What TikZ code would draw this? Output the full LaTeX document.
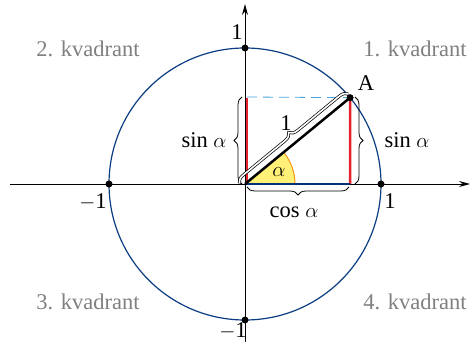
\documentclass[tikz,border=0pt]{standalone}
\usepackage{fontspec}
\setmainfont{Liberation Serif}
\usetikzlibrary{arrows.meta,decorations.pathreplacing,calc}
\definecolor{circblue}{RGB}{10,60,130}
\definecolor{navy}{RGB}{0,50,120}
\definecolor{redl}{RGB}{230,35,45}
\definecolor{dashb}{RGB}{70,165,220}
\definecolor{yel}{RGB}{255,240,120}
\definecolor{ora}{RGB}{245,150,30}
\definecolor{kv}{RGB}{128,128,128}
\begin{document}
\begin{tikzpicture}[x=1pt,y=-1pt,
  lbl/.style={font=\fontsize{22.5}{26}\selectfont, inner sep=0pt},
  kvad/.style={lbl, text=kv},
  dot/.style={circle, fill=black, inner sep=0pt, minimum size=7pt},
  axis/.style={line width=1pt, -{Stealth[length=11pt,width=6pt]}},
  brc/.style={decorate, decoration={brace, amplitude=8pt}, line width=0.8pt}]
\useasboundingbox (0,0) rectangle (474,350);
\coordinate (O) at (245,184);
\coordinate (xl) at (10,184);
\coordinate (xr) at (470,184);
\coordinate (yb) at (245,342);
\coordinate (yt) at (245,4);
\coordinate (A) at ($(O)+(-39.4:136)$);
% sector
\fill[yel] (O) -- ++(0:50) arc[start angle=0, end angle=-39.4, radius=50] -- cycle;
\draw[ora, line width=1pt] ($(O)+(0:50)$) arc[start angle=0, end angle=-39.4, radius=50];
% circle
\draw[circblue, line width=1.2pt] (O) circle[radius=136];
% axes
\draw[axis] (xl) -- (xr);
\draw[axis] (yb) -- (yt);
% dashed
\coordinate (Lt) at (247,97);
\draw[dashb, line width=0.8pt, dash pattern=on 10pt off 6pt] (Lt) -- (A);
% red lines
\coordinate (Lb) at (247,184);
\coordinate (Ab) at ($(O)+(105.1,0)$);
\draw[redl, line width=2.5pt] (Lb) -- (Lt |- A);
\draw[redl, line width=2.5pt] (Ab) -- (A);
% blue base
\draw[navy, line width=2.5pt] (Lb) -- (Ab);
% hypotenuse
\draw[black, line width=2.5pt] (O) -- (A);
% braces
\draw[brc] (242,184) -- (242,97);
\draw[brc] (355,97) -- (355,184);
\draw[brc] (349,187) -- (247,187);
\draw[decorate, decoration={brace, amplitude=8pt, raise=4pt}, draw=black, double=white, double distance=1.6pt, line width=0.7pt] ($(O)!-4pt!(A)$) -- ($(A)!-1pt!(O)$);
% dots
\node[dot] (d1) at (109,184) {};
\node[dot] (d2) at (381,184) {};
\node[dot] (d3) at (245,48) {};
\node[dot] (d4) at (245,320) {};
\node[dot] (dA) at (A) {};
% labels
\node[lbl] (al) at (279,172) {$\alpha$};
\node[lbl] (one) at (286,123) {1};
\node[lbl] (lA) at (366,83) {A};
\node[lbl] (sinl) at (204,140) {sin $\alpha$};
\node[lbl] (sinr) at (407,140) {sin $\alpha$};
\node[lbl] (cosl) at (294,212) {cos $\alpha$};
\node[lbl] (t1) at (237,32) {1};
\node[lbl] (tm1) at (233,331) {$-$1};
\node[lbl] (lm1) at (93,202) {$-$1};
\node[lbl] (r1) at (390,201) {1};
\node[kvad] (k2) at (88,49) {2. kvadrant};
\node[kvad] (k1) at (415,49) {1. kvadrant};
\node[kvad] (k3) at (88,302) {3. kvadrant};
\node[kvad] (k4) at (415,302) {4. kvadrant};
\end{tikzpicture}
\end{document}
